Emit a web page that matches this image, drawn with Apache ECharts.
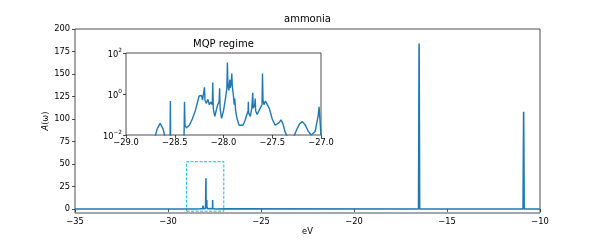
<!DOCTYPE html>
<html><head><meta charset="utf-8">
<script src="https://cdn.jsdelivr.net/npm/echarts@6/dist/echarts.min.js"></script>
<style>html,body{margin:0;padding:0;background:#fff}#c{width:600px;height:240px}</style>
</head><body><div id="c"></div>
<script>
// Spectral function in the MQP region (eV, A(omega))
const clusterE = [-29.00,-28.80,-28.72,-28.70,-28.68,-28.65,-28.62,-28.60,-28.56,-28.548,-28.545,-28.542,-28.50,-28.45,-28.405,-28.40,-28.395,-28.38,-28.35,-28.32,-28.29,-28.27,-28.25,-28.235,-28.225,-28.215,-28.205,-28.198,-28.195,-28.19,-28.175,-28.16,-28.145,-28.13,-28.115,-28.11,-28.105,-28.09,-28.075,-28.06,-28.045,-28.04,-28.035,-28.02,-28.00,-27.98,-27.965,-27.96,-27.955,-27.945,-27.935,-27.93,-27.92,-27.915,-27.91,-27.90,-27.89,-27.885,-27.875,-27.86,-27.84,-27.82,-27.80,-27.78,-27.76,-27.748,-27.745,-27.742,-27.725,-27.71,-27.70,-27.695,-27.68,-27.675,-27.67,-27.655,-27.64,-27.625,-27.605,-27.60,-27.595,-27.585,-27.57,-27.555,-27.53,-27.50,-27.47,-27.45,-27.43,-27.41,-27.39,-27.37,-27.35,-27.32,-27.28,-27.25,-27.22,-27.19,-27.16,-27.13,-27.10,-27.06,-27.03,-27.02,-27.01,-27.00];
const clusterA = [0.0005,0.001,0.004,0.009,0.02,0.037,0.02,0.008,0.004,0.006,0.45,0.006,0.002,0.002,0.006,0.42,0.03,0.022,0.03,0.06,0.15,0.35,0.8,0.7,0.85,0.5,0.6,0.4,2.1,0.5,0.35,0.55,0.3,0.4,0.3,3.6,0.2,0.08,0.1,0.3,0.4,1.9,0.2,0.065,0.15,0.6,2.0,34,3.0,1.5,5,2,4,10,2.5,1.0,0.3,0.6,0.15,0.06,0.03,0.025,0.03,0.05,0.1,0.15,0.42,0.12,0.08,0.2,1.15,0.2,0.3,0.6,0.15,0.1,0.12,0.2,0.3,10,0.5,0.3,0.45,0.4,0.2,0.06,0.03,0.025,0.04,0.055,0.035,0.015,0.009,0.007,0.008,0.018,0.035,0.045,0.03,0.015,0.01,0.015,0.08,0.24,0.05,0.01];
// Rest of the spectrum (quasiparticle peaks)
const outerE = [-35,-16.53,-16.50,-16.47,-10.91,-10.88,-10.85,-10];
const outerA = [0,0.02,184,0.02,0.02,108,0.02,0];
const mainXTicks = [-35,-30,-25,-20,-15,-10];
const mainYTicks = [0,25,50,75,100,125,150,175,200];
const insetXTicks = [-29,-28.5,-28,-27.5,-27];
const insetYTicks = [0.01,1,100];
const zoomBox = [[-29,-2.5],[-27,52.5]];

const clusterData = clusterE.map((e,i)=>[e, clusterA[i]]);
const mainData = clusterData.concat(outerE.map((e,i)=>[e, outerA[i]])).sort((a,b)=>a[0]-b[0]);

const FONT = 'DejaVu Sans';
const minus = (v, d) => (v < 0 ? '\u2212' : '') + (d != null ? Math.abs(v).toFixed(d) : String(Math.abs(v)));
const blue = '#1f77b4';
const spine = '#222';

const chart = echarts.init(document.getElementById('c'), null, {renderer:'canvas'});
chart.setOption({
  animation: false,
  backgroundColor: '#fff',
  textStyle: {fontFamily: FONT},
  title: [
    {text: 'ammonia', left: 307.5, top: 14, textAlign: 'center', padding: 0,
     textStyle: {fontSize: 10, fontWeight: 'normal', color: '#000', fontFamily: FONT}},
    {text: 'MQP regime', left: 223.5, top: 39, textAlign: 'center', padding: 0,
     textStyle: {fontSize: 10, fontWeight: 'normal', color: '#000', fontFamily: FONT}}
  ],
  grid: [
    {left: 75, right: 60, top: 29, bottom: 27, show: true, borderColor: spine, borderWidth: 0.8, backgroundColor: 'transparent', outerBoundsMode: 'none', containLabel: false},
    {left: 126, top: 53, width: 195, height: 82, show: true, borderColor: spine, borderWidth: 0.8, backgroundColor: '#fff', z: 5, outerBoundsMode: 'none', containLabel: false}
  ],
  xAxis: [
    {type: 'value', gridIndex: 0, min: -35, max: -10, interval: 5,
     axisLine: {show: false}, splitLine: {show: false},
     axisTick: {show: true, length: 3, lineStyle: {color: spine, width: 0.8}, customValues: mainXTicks},
     axisLabel: {fontSize: 8.3, color: '#000', margin: 5, fontFamily: FONT, customValues: mainXTicks, formatter: v => minus(v)},
     name: 'eV', nameLocation: 'middle', nameGap: 15, nameMoveOverlap: false,
     nameTextStyle: {fontSize: 8.3, color: '#000', fontFamily: FONT}},
    {type: 'value', gridIndex: 1, min: -29, max: -27, interval: 0.5,
     axisLine: {show: false}, splitLine: {show: false},
     axisTick: {show: true, length: 3, lineStyle: {color: spine, width: 0.8}, customValues: insetXTicks},
     axisLabel: {fontSize: 8.3, color: '#000', margin: 4, fontFamily: FONT, customValues: insetXTicks, formatter: v => minus(v, 1)}}
  ],
  yAxis: [
    {type: 'value', gridIndex: 0, min: -4.5, max: 200,
     axisLine: {show: false}, splitLine: {show: false},
     axisTick: {show: true, length: 3, lineStyle: {color: spine, width: 0.8}, customValues: mainYTicks},
     axisLabel: {fontSize: 8.3, color: '#000', margin: 5, fontFamily: FONT, customValues: mainYTicks, formatter: v => minus(v)},
     name: '{i|A}(\u03c9)', nameLocation: 'middle', nameGap: 25, nameRotate: 90, nameMoveOverlap: false,
     nameTextStyle: {fontSize: 8.3, color: '#000', fontFamily: FONT,
       rich: {i: {fontStyle: 'italic', fontSize: 8.3, color: '#000', fontFamily: FONT}}}},
    {type: 'log', gridIndex: 1, logBase: 10, min: 0.01, max: 100, interval: 2,
     axisLine: {show: false}, splitLine: {show: false}, minorTick: {show: false},
     axisTick: {show: true, length: 3, lineStyle: {color: spine, width: 0.8}, customValues: insetYTicks},
     axisLabel: {color: '#000', margin: 4, fontFamily: FONT, customValues: insetYTicks,
       formatter: v => { const e = Math.round(Math.log10(v)); return '{b|10}{s|' + minus(e) + '}'; },
       rich: {
         b: {fontSize: 8.3, color: '#000', fontFamily: FONT, lineHeight: 12, padding: [3, 0, 0, 0]},
         s: {fontSize: 5.8, color: '#000', fontFamily: FONT, verticalAlign: 'top', lineHeight: 8}
       }}}
  ],
  series: [
    {type: 'line', xAxisIndex: 0, yAxisIndex: 0, data: mainData, showSymbol: false, symbol: 'none',
     lineStyle: {color: blue, width: 1.6}, z: 2, clip: true,
     markArea: {silent: true, label: {show: false},
       itemStyle: {color: 'rgba(0,0,0,0)', borderColor: '#17becf', borderWidth: 1, borderType: [3, 1.5]},
       data: [[{coord: zoomBox[0]}, {coord: zoomBox[1]}]]}},
    {type: 'line', xAxisIndex: 1, yAxisIndex: 1, data: clusterData, showSymbol: false, symbol: 'none',
     lineStyle: {color: blue, width: 1.4}, z: 6, clip: true}
  ]
});
</script>
</body></html>
